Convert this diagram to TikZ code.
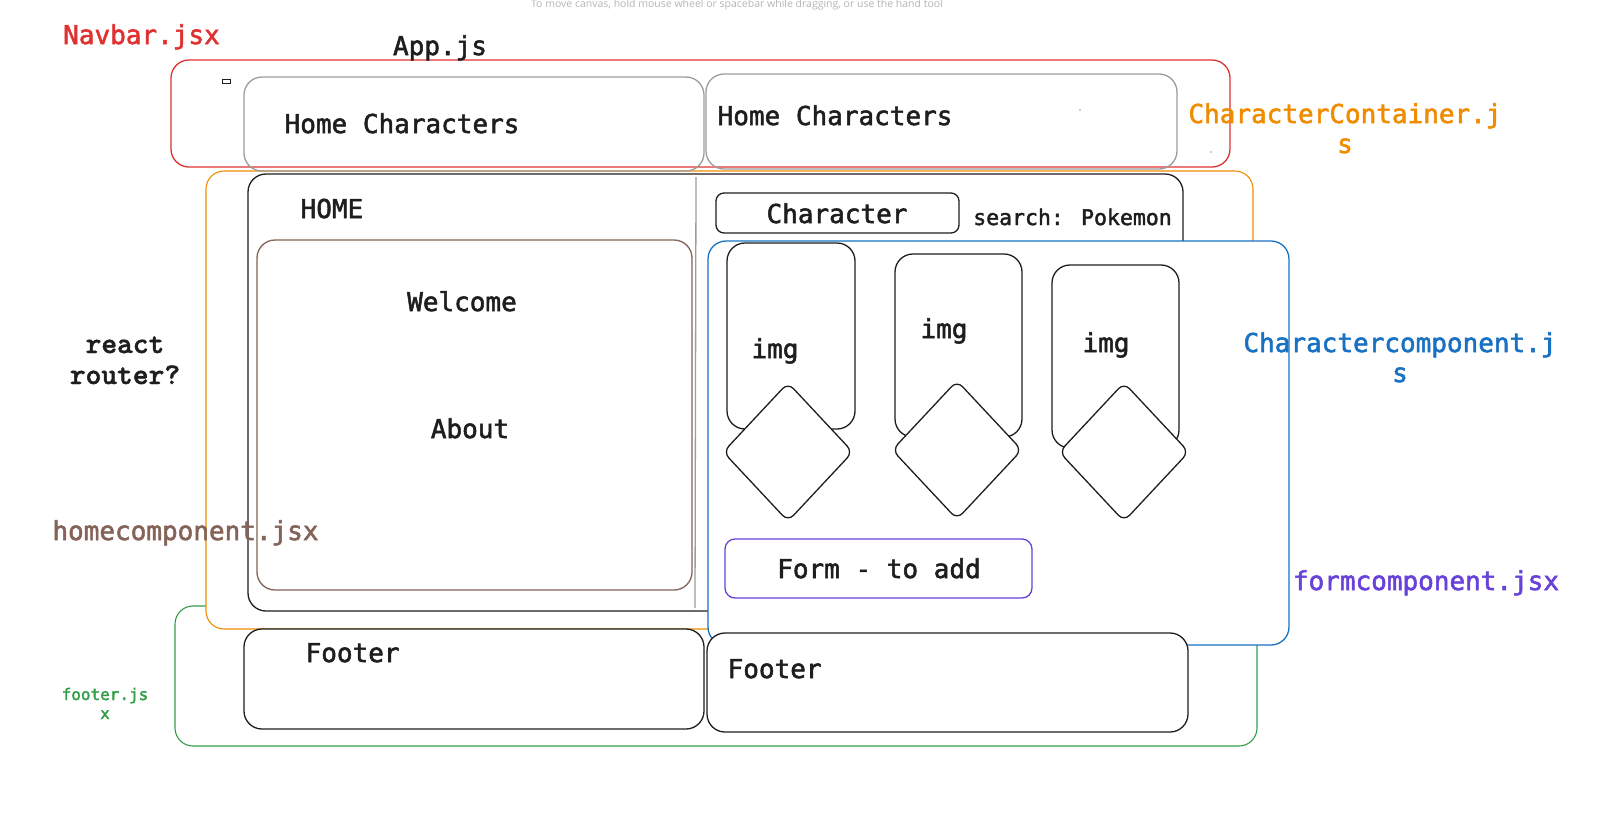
\documentclass[tikz,border=0pt]{standalone}
\usepackage{fontspec}
\setmainfont{DejaVu Sans Mono}[FakeBold=2]
\newfontfamily\slabfont{lmmonolt10-bold}[Extension=.otf, FakeBold=1.5]
\newfontfamily\hintfont{Open Sans}
\usetikzlibrary{shapes.geometric}

\definecolor{ink}{HTML}{1E1E1E}
\definecolor{navred}{HTML}{E03131}
\definecolor{contorange}{HTML}{F08C00}
\definecolor{compblue}{HTML}{1971C2}
\definecolor{homebrown}{HTML}{846358}
\definecolor{footgreen}{HTML}{2F9E44}
\definecolor{formviolet}{HTML}{6741D9}
\definecolor{navgray}{HTML}{9C9C9C}
\definecolor{hintgray}{HTML}{B4B4B4}

\begin{document}
\begin{tikzpicture}[x=1pt, y=-1pt, line width=1.3pt,
    box/.style={draw=ink, rounded corners=18pt, inner sep=0pt, outer sep=0pt},
    gem/.style={diamond, draw=ink, fill=white, minimum width=130, minimum height=139, inner sep=0pt, rounded corners=8pt},
    txt/.style={anchor=base, inner sep=0pt, text=ink, font=\fontsize{26}{30}\selectfont},
    tag/.style={txt, align=center}]
    \useasboundingbox (0,0) rectangle (1610,820);

    \node[box, draw=footgreen, line width=1.1pt, minimum width=1082, minimum height=140] (footwrap) at (716,676) {};
    \node[box, draw=contorange, fill=white, line width=1.1pt, minimum width=1047, minimum height=458] (container) at (729.5,400) {};

    \node[box, draw=navred, minimum width=1059, minimum height=107] (navbar) at (700.5,113.5) {};
    \node[box, draw=navgray, minimum width=460, minimum height=94] (navl) at (474,124) {};
    \node[box, draw=navgray, minimum width=471, minimum height=95] (navr) at (941.5,121.5) {};
    \node[draw=ink, line width=0.8pt, inner sep=0pt, minimum width=8, minimum height=4] (tick) at (226,81) {};
    \fill[navgray] (1080,110) circle (0.8);
    \fill[navgray] (1211,152) circle (0.8);

    \node[box, minimum width=935, minimum height=437] (home) at (715.5,392.5) {};
    \draw[navgray] (696,177) -- (695,608);
    \node[box, draw=homebrown, minimum width=435, minimum height=350] (homecomp) at (474.5,415) {};

    \node[box, rounded corners=8pt, minimum width=243, minimum height=40] (charbtn) at (837.5,213) {};

    \node[box, draw=compblue, fill=white, minimum width=581, minimum height=404] (charcomp) at (998.5,443) {};
    \node[box, minimum width=128, minimum height=186] (card1) at (791,336) {};
    \node[box, minimum width=127, minimum height=183] (card2) at (958.5,345.5) {};
    \node[box, minimum width=127, minimum height=183] (card3) at (1115.5,356.5) {};
    \node[gem] (gem1) at (788,452) {};
    \node[gem] (gem2) at (957,450) {};
    \node[gem] (gem3) at (1124,452) {};
    \node[box, draw=formviolet, rounded corners=10pt, minimum width=307, minimum height=59] (form) at (878.5,568.5) {};

    \node[box, fill=white, minimum width=460, minimum height=100] (footl) at (474,679) {};
    \node[box, fill=white, minimum width=481, minimum height=99] (footr) at (947.5,682.5) {};

    \node[txt, anchor=base west] (navltext) at (284,133) {Home Characters};
    \node[txt, anchor=base west] (navrtext) at (717,125) {Home Characters};
    \node[txt] (apptext) at (440,55) {App.js};
    \node[txt, anchor=base west] (hometext) at (300,218) {HOME};
    \node[txt] (welcome) at (462,311) {Welcome};
    \node[txt] (about) at (470,438) {About};
    \node[txt] (chartext) at (837,223) {Character};
    \node[txt, font=\fontsize{21.5}{26}\selectfont] (search) at (1072.5,225) {search: Pokemon};
    \node[txt] (img1) at (775,358) {img};
    \node[txt] (img2) at (944,338) {img};
    \node[txt] (img3) at (1106,352) {img};
    \node[txt] (formtext) at (879,578) {Form - to add};
    \node[txt, anchor=base west] (footltext) at (305,662) {Footer};
    \node[txt, anchor=base west] (footrtext) at (727,678) {Footer};

    \node[txt, text=navred] (navname) at (141.5,44) {Navbar.jsx};
    \node[tag, text=contorange] (contname) at (1345,153) {CharacterContainer.j\\s};
    \node[tag, text=compblue] (compname) at (1400,382) {Charactercomponent.j\\s};
    \node[txt, text=formviolet] (formname) at (1426,590) {formcomponent.jsx};
    \node[txt, text=homebrown] (homename) at (185.5,540) {homecomponent.jsx};
    \node[tag, text=footgreen, font=\fontsize{16}{19}\selectfont] (footname) at (105,719) {footer.js\\x};
    \node[tag, font=\slabfont\fontsize{30}{31}\selectfont] (router) at (125,384) {react\\router?};
    \node[anchor=base, inner sep=0pt, text=hintgray, font=\hintfont\fontsize{10.5}{12}\selectfont] (hint) at (737,7) {To move canvas, hold mouse wheel or spacebar while dragging, or use the hand tool};
\end{tikzpicture}
\end{document}
